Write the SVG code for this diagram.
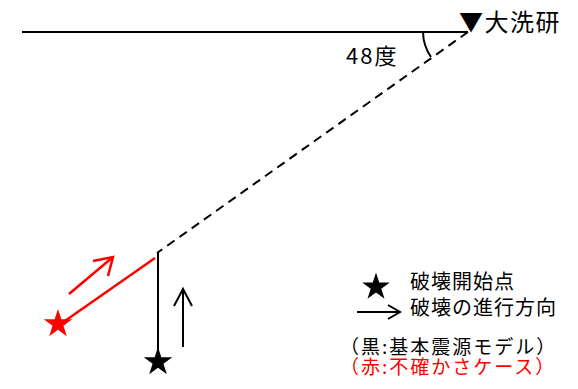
<svg xmlns="http://www.w3.org/2000/svg" xmlns:xlink="http://www.w3.org/1999/xlink" width="578" height="389" viewBox="0 0 578 389">
<style>
  .t { font-family: "Noto Sans CJK JP", "Noto Sans", sans-serif; fill: #000; }
  .red { fill: #ff0000; }
  .ln { fill: none; stroke: #000; stroke-width: 2; }
  .rln { fill: none; stroke: #ff0000; stroke-width: 2.5; }
</style>
<defs>
  <path id="star" d="M0,-1 L0.2245,-0.309 L0.951,-0.309 L0.363,0.118 L0.588,0.809 L0,0.382 L-0.588,0.809 L-0.363,0.118 L-0.951,-0.309 L-0.2245,-0.309 Z"/>
</defs>
<rect width="578" height="389" fill="#fff"/>
<g id="connectors">
  <line class="ln" x1="22" y1="32" x2="468" y2="32"/>
  <line class="ln" x1="468" y1="32" x2="157" y2="253" stroke-dasharray="9,6"/>
  <path class="ln" d="M423,32 A45,45 0 0 0 431,57" stroke-width="1.8"/>
  <line class="ln" x1="158" y1="253" x2="158" y2="355" stroke-width="2.2"/>
  <line class="rln" x1="155" y1="258" x2="62" y2="323"/>
  <line class="rln" x1="69" y1="294" x2="113" y2="257"/>
  <polyline class="rln" points="93,261 113,257 108,276"/>
  <line class="ln" x1="183" y1="347" x2="183" y2="289"/>
  <polyline class="ln" points="174,306 183,289 192,306"/>
</g>
<g id="node-daiarai">
  <text class="t" x="459" y="31" font-size="24" letter-spacing="1.5">▼大洗研</text>
</g>
<g id="node-angle">
  <text class="t" x="346" y="64" font-size="22" letter-spacing="2">48度</text>
</g>
<g id="node-black-start">
  <use xlink:href="#star" fill="#000" transform="translate(158,362) scale(15)"/>
</g>
<g id="node-red-start">
  <use xlink:href="#star" fill="#ff0000" transform="translate(58,324) scale(15)"/>
</g>
<g id="legend">
  <use xlink:href="#star" fill="#000" transform="translate(376,287) scale(14.5)"/>
  <line class="ln" x1="357" y1="312" x2="400" y2="312"/>
  <polyline class="ln" points="388,305 400,312 388,319"/>
  <text class="t" x="410" y="289" font-size="20" letter-spacing="1">破壊開始点</text>
  <text class="t" x="410" y="315" font-size="20" letter-spacing="1">破壊の進行方向</text>
  <text class="t" x="340" y="354" font-size="19" letter-spacing="2">（黒:基本震源モデル）</text>
  <text class="t red" x="340" y="374" font-size="19" letter-spacing="2">（赤:不確かさケース）</text>
</g>
</svg>
